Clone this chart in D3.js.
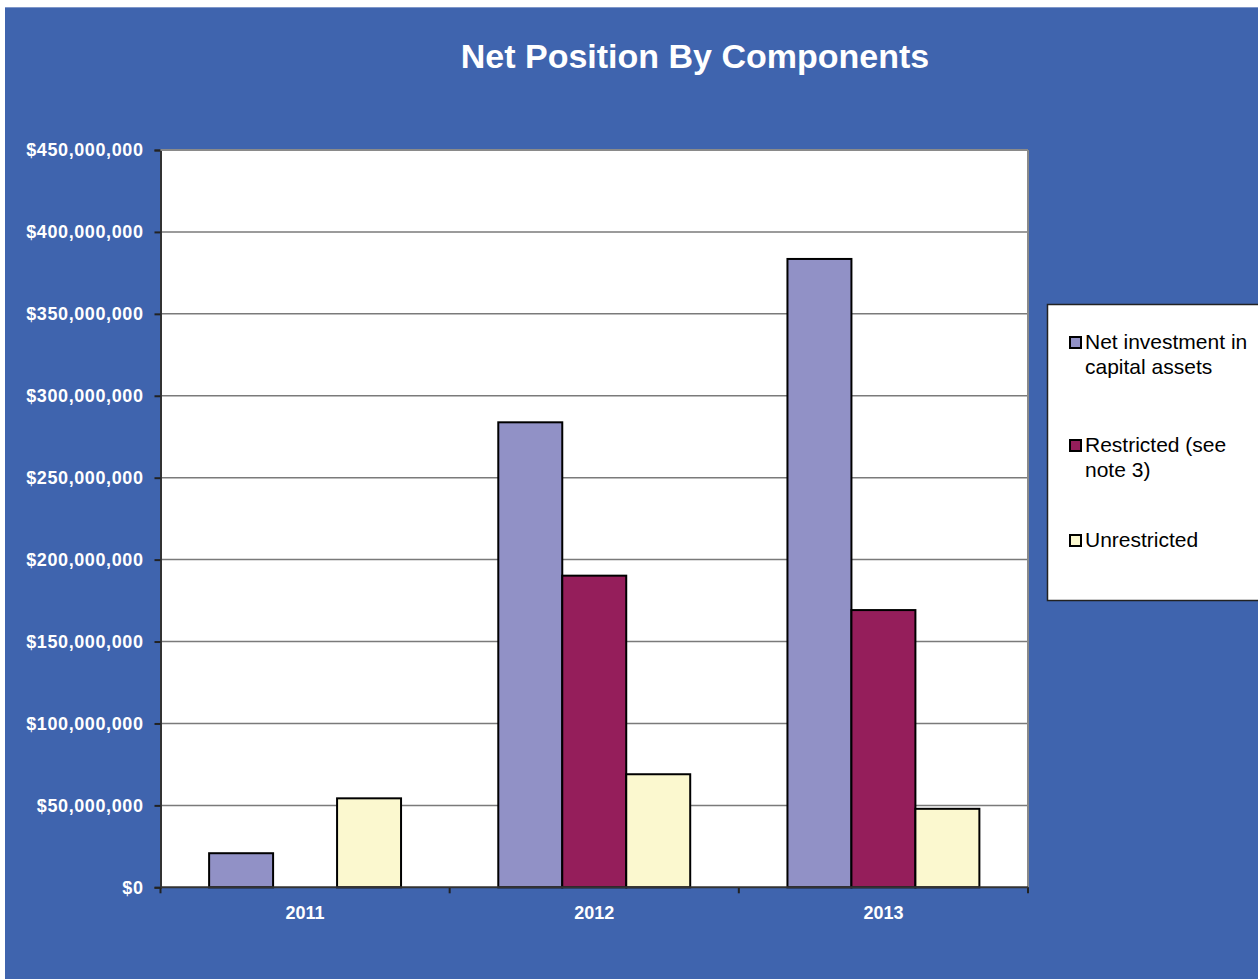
<!DOCTYPE html>
<html>
<head>
<meta charset="utf-8">
<script src="https://cdn.jsdelivr.net/npm/d3@7"></script>
<style>
  html, body { margin: 0; padding: 0; background: #ffffff; }
  svg { display: block; }
</style>
</head>
<body>
<script>
// ---- data ----
const categories = ["2011", "2012", "2013"];
const seriesNames = ["Net investment in capital assets", "Restricted (see note 3)", "Unrestricted"];
const netInvestment = [20.8e6, 283.8e6, 383.5e6];
const restricted = [0, 190.2e6, 169.2e6];
const unrestricted = [54.3e6, 69.0e6, 47.9e6];
const yTicks = [0, 50e6, 100e6, 150e6, 200e6, 250e6, 300e6, 350e6, 400e6, 450e6];
const legendLines = [["Net investment in", "capital assets"], ["Restricted (see", "note 3)"], ["Unrestricted"]];
const colors = ["#9191C6", "#951E5B", "#FBF8CF"];

const W = 1258, H = 979;
const bg = "#3F64AE";
const plot = { left: 160.5, right: 1028, top: 150, bottom: 887.3 };

const svg = d3.select("body").append("svg").attr("width", W).attr("height", H);
svg.append("rect").attr("x", 0).attr("y", 0).attr("width", W).attr("height", H).attr("fill", "#ffffff");
svg.append("rect").attr("x", 5).attr("y", 7).attr("width", W - 5).attr("height", H - 7).attr("fill", bg);
svg.append("line").attr("x1", 5).attr("x2", W).attr("y1", 7.5).attr("y2", 7.5).attr("stroke", "#7f97c9").attr("stroke-width", 1);

// title
svg.append("text").attr("x", 695).attr("y", 68).attr("text-anchor", "middle")
  .attr("font-family", "Liberation Sans, Arial, sans-serif").attr("font-weight", "bold")
  .attr("font-size", 34).attr("fill", "#ffffff").text("Net Position By Components");

// scales
const x0 = d3.scaleBand().domain(categories).range([plot.left, plot.right]).paddingInner(0).paddingOuter(0);
const x1 = d3.scaleBand().domain(seriesNames).range([0, x0.bandwidth()]).paddingInner(0).paddingOuter(0.76);
const y = d3.scaleLinear().domain([0, 450e6]).range([plot.bottom, plot.top]);

// plot background
svg.append("rect").attr("x", plot.left).attr("y", plot.top)
  .attr("width", plot.right - plot.left).attr("height", plot.bottom - plot.top).attr("fill", "#ffffff");

// gridlines
svg.append("g").selectAll("line").data(yTicks.filter(d => d > 0)).join("line")
  .attr("x1", plot.left).attr("x2", plot.right)
  .attr("y1", d => y(d)).attr("y2", d => y(d))
  .attr("stroke", "#7a7a7a").attr("stroke-width", 1.5);

// right border
svg.append("line").attr("x1", plot.right).attr("x2", plot.right).attr("y1", plot.top).attr("y2", plot.bottom)
  .attr("stroke", "#8a8a8a").attr("stroke-width", 2);

// bars
const seriesVals = [netInvestment, restricted, unrestricted];
const barData = [];
categories.forEach((c, i) => {
  seriesNames.forEach((s, j) => {
    barData.push({ cat: c, series: s, value: seriesVals[j][i], color: colors[j] });
  });
});
svg.append("g").selectAll("rect").data(barData.filter(d => d.value > 0)).join("rect")
  .attr("x", d => x0(d.cat) + x1(d.series))
  .attr("y", d => y(d.value))
  .attr("width", x1.bandwidth())
  .attr("height", d => y(0) - y(d.value))
  .attr("fill", d => d.color)
  .attr("stroke", "#000000").attr("stroke-width", 2);

// y axis
const yAxis = d3.axisLeft(y).tickValues(yTicks).tickSize(6).tickPadding(11)
  .tickFormat(d => "$" + d3.format(",")(d));
const gy = svg.append("g").attr("transform", `translate(${plot.left},0)`).call(yAxis);
gy.select(".domain").attr("stroke", "#333333").attr("stroke-width", 2);
gy.selectAll(".tick line").attr("stroke", "#222222").attr("stroke-width", 2);
gy.selectAll(".tick text").attr("fill", "#ffffff").attr("font-family", "Liberation Sans, Arial, sans-serif")
  .attr("font-weight", "bold").attr("font-size", 18).attr("letter-spacing", 0.6);

// x axis
const xAxis = d3.axisBottom(x0).tickSize(0).tickPadding(19);
const gx = svg.append("g").attr("transform", `translate(0,${plot.bottom})`).call(xAxis);
gx.select(".domain").remove();
gx.selectAll(".tick text").attr("fill", "#ffffff").attr("font-family", "Liberation Sans, Arial, sans-serif")
  .attr("font-weight", "bold").attr("font-size", 18);
// category boundary ticks
const boundaries = [plot.left].concat(categories.map(c => x0(c) + x0.bandwidth()));
svg.append("g").selectAll("line").data(boundaries).join("line")
  .attr("x1", d => d).attr("x2", d => d).attr("y1", plot.bottom).attr("y2", plot.bottom + 6)
  .attr("stroke", "#222222").attr("stroke-width", 2);
svg.append("line").attr("x1", plot.left).attr("x2", plot.right).attr("y1", plot.bottom).attr("y2", plot.bottom)
  .attr("stroke", "#333333").attr("stroke-width", 2);
// top border
svg.append("line").attr("x1", plot.left).attr("x2", plot.right).attr("y1", plot.top).attr("y2", plot.top)
  .attr("stroke", "#8a8a8a").attr("stroke-width", 2);

// legend
const lg = svg.append("g");
lg.append("rect").attr("x", 1047.5).attr("y", 304.5).attr("width", 230).attr("height", 296)
  .attr("fill", "#ffffff").attr("stroke", "#222222").attr("stroke-width", 1.5);
const rowBase = [349, 452, 547];
legendLines.forEach((lines, i) => {
  lg.append("rect").attr("x", 1070).attr("y", rowBase[i] - 12).attr("width", 11).attr("height", 11)
    .attr("fill", colors[i]).attr("stroke", "#000000").attr("stroke-width", 2);
  lines.forEach((t, k) => {
    lg.append("text").attr("x", 1085).attr("y", rowBase[i] + k * 25)
      .attr("font-family", "Liberation Sans, Arial, sans-serif").attr("font-size", 21)
      .attr("fill", "#000000").text(t);
  });
});
</script>
</body>
</html>
